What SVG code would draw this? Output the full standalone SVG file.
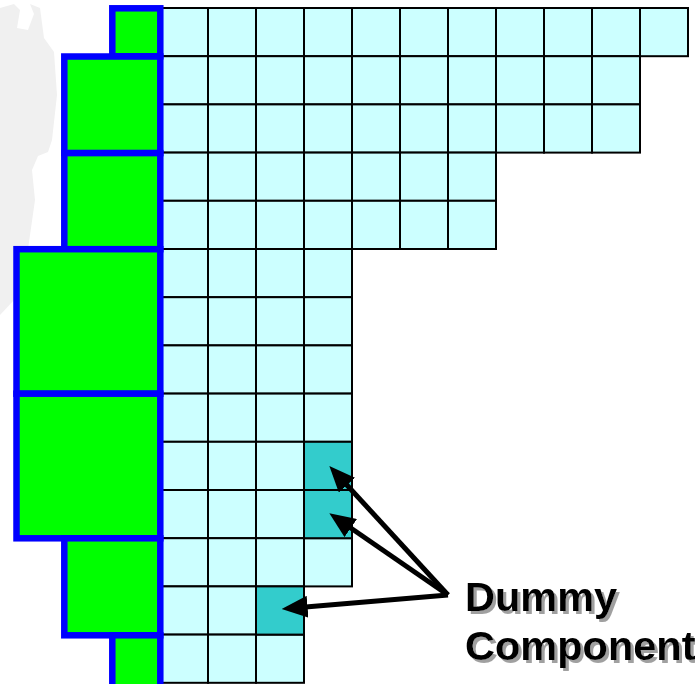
<svg xmlns="http://www.w3.org/2000/svg" width="695" height="684" viewBox="0 0 695 684">
<style>
.c{fill:#ccffff;stroke:#000;stroke-width:2}
.d{fill:#33cccc;stroke:#000;stroke-width:2}
.b{fill:#00ff00;stroke:#0000ff;stroke-width:6.5}
.a{stroke:#000;stroke-width:5;fill:none;marker-end:url(#ah)}
.t{font-family:"Liberation Sans",Arial,sans-serif;font-weight:bold;font-size:41.5px;fill:#000;filter:url(#sh)}
</style>
<defs>
<marker id="ah" viewBox="0 0 26 22" markerUnits="userSpaceOnUse" markerWidth="26" markerHeight="22" refX="11" refY="11" orient="auto"><path d="M0,0 L26,11 L0,22 z" fill="#000"/></marker>
<filter id="sh" x="-10%" y="-20%" width="130%" height="150%">
<feOffset in="SourceAlpha" dx="3" dy="3" result="o"/>
<feFlood flood-color="#a0a0a0"/>
<feComposite in2="o" operator="in" result="s"/>
<feMerge><feMergeNode in="s"/><feMergeNode in="SourceGraphic"/></feMerge>
</filter>
</defs>
<rect width="695" height="684" fill="#fff"/>
<path d="M0,8 L14,4 L20,10 L17,28 L28,30 L34,14 L30,4 L40,8 L44,38 L54,52 L57,95 L52,140 L48,152 L38,156 L32,170 L35,200 L30,235 L25,270 L14,300 L0,315 Z" fill="#f0f0f0"/>
<g id="grid">
<rect class="c" x="160" y="8" width="48" height="48.2"/><rect class="c" x="208" y="8" width="48" height="48.2"/><rect class="c" x="256" y="8" width="48" height="48.2"/><rect class="c" x="304" y="8" width="48" height="48.2"/><rect class="c" x="352" y="8" width="48" height="48.2"/><rect class="c" x="400" y="8" width="48" height="48.2"/><rect class="c" x="448" y="8" width="48" height="48.2"/><rect class="c" x="496" y="8" width="48" height="48.2"/><rect class="c" x="544" y="8" width="48" height="48.2"/><rect class="c" x="592" y="8" width="48" height="48.2"/><rect class="c" x="640" y="8" width="48" height="48.2"/>
<rect class="c" x="160" y="56.2" width="48" height="48.2"/><rect class="c" x="208" y="56.2" width="48" height="48.2"/><rect class="c" x="256" y="56.2" width="48" height="48.2"/><rect class="c" x="304" y="56.2" width="48" height="48.2"/><rect class="c" x="352" y="56.2" width="48" height="48.2"/><rect class="c" x="400" y="56.2" width="48" height="48.2"/><rect class="c" x="448" y="56.2" width="48" height="48.2"/><rect class="c" x="496" y="56.2" width="48" height="48.2"/><rect class="c" x="544" y="56.2" width="48" height="48.2"/><rect class="c" x="592" y="56.2" width="48" height="48.2"/>
<rect class="c" x="160" y="104.4" width="48" height="48.2"/><rect class="c" x="208" y="104.4" width="48" height="48.2"/><rect class="c" x="256" y="104.4" width="48" height="48.2"/><rect class="c" x="304" y="104.4" width="48" height="48.2"/><rect class="c" x="352" y="104.4" width="48" height="48.2"/><rect class="c" x="400" y="104.4" width="48" height="48.2"/><rect class="c" x="448" y="104.4" width="48" height="48.2"/><rect class="c" x="496" y="104.4" width="48" height="48.2"/><rect class="c" x="544" y="104.4" width="48" height="48.2"/><rect class="c" x="592" y="104.4" width="48" height="48.2"/>
<rect class="c" x="160" y="152.6" width="48" height="48.2"/><rect class="c" x="208" y="152.6" width="48" height="48.2"/><rect class="c" x="256" y="152.6" width="48" height="48.2"/><rect class="c" x="304" y="152.6" width="48" height="48.2"/><rect class="c" x="352" y="152.6" width="48" height="48.2"/><rect class="c" x="400" y="152.6" width="48" height="48.2"/><rect class="c" x="448" y="152.6" width="48" height="48.2"/>
<rect class="c" x="160" y="200.8" width="48" height="48.2"/><rect class="c" x="208" y="200.8" width="48" height="48.2"/><rect class="c" x="256" y="200.8" width="48" height="48.2"/><rect class="c" x="304" y="200.8" width="48" height="48.2"/><rect class="c" x="352" y="200.8" width="48" height="48.2"/><rect class="c" x="400" y="200.8" width="48" height="48.2"/><rect class="c" x="448" y="200.8" width="48" height="48.2"/>
<rect class="c" x="160" y="249" width="48" height="48.2"/><rect class="c" x="208" y="249" width="48" height="48.2"/><rect class="c" x="256" y="249" width="48" height="48.2"/><rect class="c" x="304" y="249" width="48" height="48.2"/>
<rect class="c" x="160" y="297.2" width="48" height="48.2"/><rect class="c" x="208" y="297.2" width="48" height="48.2"/><rect class="c" x="256" y="297.2" width="48" height="48.2"/><rect class="c" x="304" y="297.2" width="48" height="48.2"/>
<rect class="c" x="160" y="345.4" width="48" height="48.2"/><rect class="c" x="208" y="345.4" width="48" height="48.2"/><rect class="c" x="256" y="345.4" width="48" height="48.2"/><rect class="c" x="304" y="345.4" width="48" height="48.2"/>
<rect class="c" x="160" y="393.6" width="48" height="48.2"/><rect class="c" x="208" y="393.6" width="48" height="48.2"/><rect class="c" x="256" y="393.6" width="48" height="48.2"/><rect class="c" x="304" y="393.6" width="48" height="48.2"/>
<rect class="c" x="160" y="441.8" width="48" height="48.2"/><rect class="c" x="208" y="441.8" width="48" height="48.2"/><rect class="c" x="256" y="441.8" width="48" height="48.2"/>
<rect class="c" x="160" y="490" width="48" height="48.2"/><rect class="c" x="208" y="490" width="48" height="48.2"/><rect class="c" x="256" y="490" width="48" height="48.2"/>
<rect class="c" x="160" y="538.2" width="48" height="48.2"/><rect class="c" x="208" y="538.2" width="48" height="48.2"/><rect class="c" x="256" y="538.2" width="48" height="48.2"/><rect class="c" x="304" y="538.2" width="48" height="48.2"/>
<rect class="c" x="160" y="586.4" width="48" height="48.2"/><rect class="c" x="208" y="586.4" width="48" height="48.2"/>
<rect class="c" x="160" y="634.6" width="48" height="48.2"/><rect class="c" x="208" y="634.6" width="48" height="48.2"/><rect class="c" x="256" y="634.6" width="48" height="48.2"/>
</g>
<g id="dummy1"><rect class="d" x="304" y="441.8" width="48" height="48.2"/></g>
<g id="dummy2"><rect class="d" x="304" y="490" width="48" height="48.2"/></g>
<g id="dummy3"><rect class="d" x="256" y="586.4" width="48" height="48.2"/></g>
<g id="block1"><rect class="b" x="112.3" y="8.3" width="48" height="48"/></g>
<g id="block2"><rect class="b" x="64.3" y="56.5" width="96" height="96.6"/></g>
<g id="block3"><rect class="b" x="64.3" y="153.1" width="96" height="96.1"/></g>
<g id="block4"><rect class="b" x="16.5" y="249.2" width="143.8" height="144.5"/></g>
<g id="block5"><rect class="b" x="16.5" y="393.7" width="143.8" height="144.6"/></g>
<g id="block6"><rect class="b" x="64.3" y="538.3" width="96" height="97"/></g>
<g id="block7"><rect class="b" x="112.3" y="635.3" width="48" height="52"/></g>
<g id="connectors">
<line class="a" x1="448" y1="595" x2="339.5" y2="477"/>
<line class="a" x1="448" y1="595" x2="341.7" y2="521.8"/>
<line class="a" x1="448" y1="595" x2="296.6" y2="607.7"/>
</g>
<g id="label">
<text class="t" x="465" y="611">Dummy</text>
<text class="t" x="465" y="660">Component</text>
</g>
</svg>
